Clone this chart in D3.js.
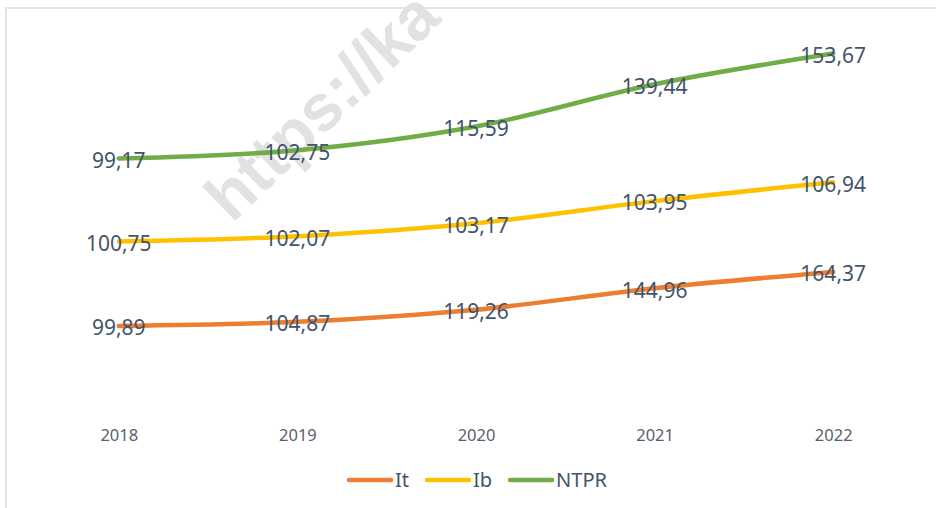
<!DOCTYPE html>
<html>
<head>
<meta charset="utf-8">
<script src="https://cdn.jsdelivr.net/npm/d3@7"></script>
<style>
  body { margin: 0; background: #ffffff; }
  svg { display: block; font-family: "Noto Sans", "Open Sans", sans-serif; }
</style>
</head>
<body>
<script>
// chart values
var years = ['2018', '2019', '2020', '2021', '2022'];
var seriesNames = ['It', 'Ib', 'NTPR'];
var itValues = [99.89, 104.87, 119.26, 144.96, 164.37];
var ibValues = [100.75, 102.07, 103.17, 103.95, 106.94];
var ntprValues = [99.17, 102.75, 115.59, 139.44, 153.67];
var colors = ['#ED7D31', '#FFC000', '#70AD47'];

var width = 936;
var height = 508;

// rows for the stack layout (Excel stacked line)
var rows = years.map(function(y, i){
    return { year: y, It: itValues[i], Ib: ibValues[i], NTPR: ntprValues[i] };
});
var stacked = d3.stack().keys(seriesNames)(rows);

var fmt = d3.formatLocale({ decimal: ',', thousands: '.', grouping: [3], currency: ['', ''] }).format('.2f');

var x = d3.scalePoint()
    .domain(years)
    .range([29.5, 922.5])
    .padding(0.5);

var y = d3.scaleLinear()
    .domain([0, 450])
    .range([409.7, 32.6]);

var svg = d3.select('body').append('svg')
    .attr('width', width)
    .attr('height', height);

// frame remains of the cropped chart
svg.append('path')
    .attr('d', 'M6,' + height + 'V8H' + width)
    .attr('fill', 'none')
    .attr('stroke', '#dfe3ea')
    .attr('stroke-width', 2);

// watermark
svg.append('text')
    .attr('transform', 'translate(232,224) rotate(-44)')
    .attr('font-family', '"Liberation Sans", Arial, sans-serif')
    .attr('font-weight', 'bold')
    .attr('font-size', 66)
    .attr('fill', '#e2e2e2')
    .text('https://ka');

var line = d3.line()
    .x(function(d){ return x(d.data.year); })
    .y(function(d){ return y(d[1]); })
    .curve(d3.curveCatmullRom.alpha(0.5));

var chartGroup = svg.append('g');

chartGroup.selectAll('path.series')
    .data(stacked)
    .enter().append('path')
    .attr('class', 'series')
    .attr('d', function(s){ return line(s); })
    .attr('fill', 'none')
    .attr('stroke', function(s, i){ return colors[i]; })
    .attr('stroke-width', 4.5)
    .attr('stroke-linecap', 'round');

// data labels, centred on the points
stacked.forEach(function(s){
    chartGroup.selectAll(null)
        .data(s)
        .enter().append('text')
        .attr('x', function(d){ return x(d.data.year); })
        .attr('y', function(d){ return y(d[1]) + 2; })
        .attr('dy', '0.35em')
        .attr('text-anchor', 'middle')
        .attr('font-size', 21)
        .attr('fill', '#44546A')
        .text(function(d){ return fmt(d.data[s.key]); });
});

// category axis
var xAxis = d3.axisBottom(x).tickSize(0).tickPadding(20);
var axisGroup = svg.append('g')
    .attr('transform', 'translate(0,' + y(0) + ')')
    .call(xAxis);
axisGroup.select('.domain').remove();
axisGroup.selectAll('text')
    .attr('font-family', '"Noto Sans", sans-serif')
    .attr('font-size', 16.5)
    .attr('fill', '#595F6B');

// legend
var legend = svg.append('g');
var lx = 0;
seriesNames.forEach(function(name, i){
    var item = legend.append('g').attr('transform', 'translate(' + lx + ',0)');
    item.append('line')
        .attr('x1', 2).attr('x2', 44)
        .attr('y1', 0).attr('y2', 0)
        .attr('stroke', colors[i])
        .attr('stroke-width', 4.5)
        .attr('stroke-linecap', 'round');
    var t = item.append('text')
        .attr('x', 48)
        .attr('dy', '0.35em')
        .attr('font-size', 20)
        .attr('fill', '#44546A')
        .text(name);
    lx += 48 + t.node().getComputedTextLength() + 16;
});
var legendWidth = lx - 16;
legend.attr('transform', 'translate(' + (477 - legendWidth / 2) + ',480)');
</script>
</body>
</html>
